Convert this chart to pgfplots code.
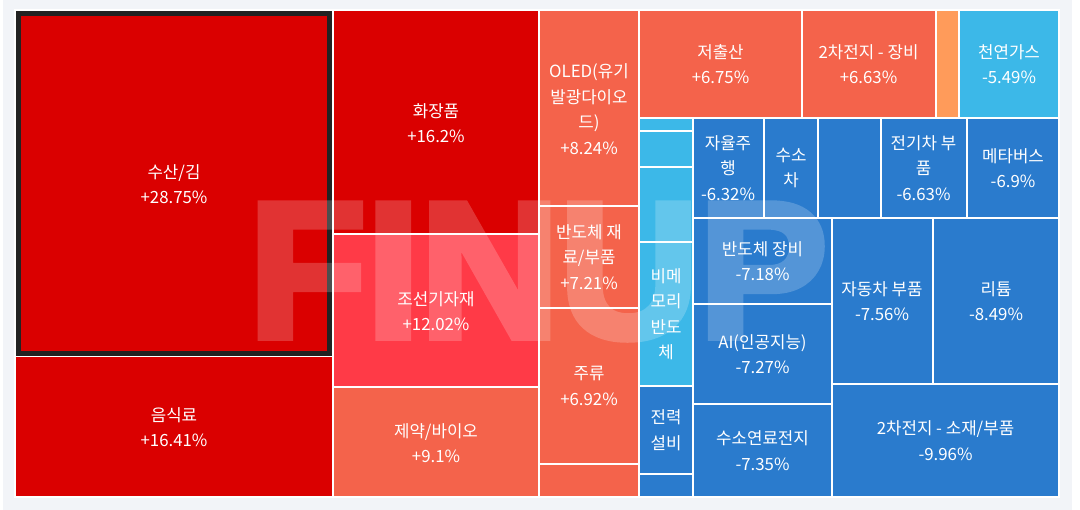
\documentclass[border=0pt]{standalone}
\usepackage{pgfplots}
\pgfplotsset{compat=1.18}
\usepackage{fontspec}
\setmainfont{Noto Sans CJK KR}
\newfontfamily\wmfont[BoldFeatures={FakeBold=4}]{Liberation Sans}
\definecolor{bg}{HTML}{F2F4F8}
\definecolor{dred}{HTML}{DA0000}
\definecolor{bred}{HTML}{FF3A47}
\definecolor{salm}{HTML}{F4634B}
\definecolor{orng}{HTML}{FF9B5A}
\definecolor{lblue}{HTML}{3CB8E8}
\definecolor{blu}{HTML}{2A7BCD}
\definecolor{dark}{HTML}{222222}
\newcommand\tile[5]{\addplot[fill=#5,draw=white,line width=2pt] coordinates {(#1,#2) (#3,#2) (#3,#4) (#1,#4)} --cycle;}
\newcommand\lbl{\fontsize{16.8}{25.5}\selectfont}
\newcommand\lab[3]{\node[align=center,text=white,font=\lbl] at (axis cs:#1,#2) {#3};}
\begin{document}
\begin{tikzpicture}
\fill[white] (0,0) rectangle (1080pt,510pt);
\fill[bg] (3pt,0) rectangle (1072pt,510pt);
\begin{axis}[scale only axis, width=1080pt, height=510pt,
  xmin=0, xmax=1080, ymin=0, ymax=510, y dir=reverse,
  hide axis, clip=false, no markers]
% tiles: x1 y1 x2 y2 colour
\tile{15}{10}{332.5}{356.5}{dred}
\tile{15}{356.5}{332.5}{497}{dred}
\tile{332.5}{10}{539}{234.5}{dred}
\tile{332.5}{234.5}{539}{387.5}{bred}
\tile{332.5}{387.5}{539}{497}{salm}
\tile{539}{10}{639}{206}{salm}
\tile{539}{206}{639}{308}{salm}
\tile{539}{308}{639}{464}{salm}
\tile{539}{464}{639}{497}{salm}
\tile{639}{10}{802}{118.5}{salm}
\tile{802}{10}{935.5}{118.5}{salm}
\tile{935.5}{10}{959}{118.5}{orng}
\tile{959}{10}{1059}{118.5}{lblue}
\tile{639}{118.5}{693}{131}{lblue}
\tile{639}{131}{693}{167}{lblue}
\tile{639}{167}{693}{242.5}{lblue}
\tile{639}{242.5}{693}{386}{lblue}
\tile{639}{386}{693}{474}{blu}
\tile{639}{474}{693}{497}{blu}
\tile{693}{118.5}{763.5}{218}{blu}
\tile{763.5}{118.5}{818}{218}{blu}
\tile{818}{118.5}{880.5}{218}{blu}
\tile{880.5}{118.5}{966.5}{218}{blu}
\tile{966.5}{118.5}{1059}{218}{blu}
\tile{693}{218}{832}{304}{blu}
\tile{693}{304}{832}{404}{blu}
\tile{693}{404}{832}{497}{blu}
\tile{832}{218}{932.5}{384}{blu}
\tile{932.5}{218}{1059}{384}{blu}
\tile{832}{384}{1059}{497}{blu}
% highlighted border
\addplot[draw=dark,line width=5pt] coordinates {(18.5,13.5) (329.5,13.5) (329.5,353.5) (18.5,353.5)} --cycle;
% watermark
\begin{scope}[transparency group, opacity=0.2]
\node[anchor=base,inner sep=0pt,text=white,font=\wmfont\bfseries\fontsize{193}{193}\selectfont] at (axis cs:538,337) {FINUP};
\end{scope}
% labels
\lab{174}{184}{수산/김\\+28.75\%}
\lab{174}{427}{음식료\\+16.41\%}
\lab{436}{123}{화장품\\+16.2\%}
\lab{436}{311}{조선기자재\\+12.02\%}
\lab{436}{443}{제약/바이오\\+9.1\%}
\lab{589}{109}{OLED(유기\\발광다이오\\드)\\+8.24\%}
\lab{589}{257}{반도체 재\\료/부품\\+7.21\%}
\lab{589}{386}{주류\\+6.92\%}
\lab{720.5}{64}{저출산\\+6.75\%}
\lab{868.5}{64}{2차전지 - 장비\\+6.63\%}
\lab{1009}{64}{천연가스\\-5.49\%}
\lab{666}{314}{비메\\모리\\반도\\체}
\lab{666}{430}{전력\\설비}
\lab{728}{168}{자율주\\행\\-6.32\%}
\lab{791}{168}{수소\\차}
\lab{923.5}{168}{전기차 부\\품\\-6.63\%}
\lab{1013}{168}{메타버스\\-6.9\%}
\lab{762.5}{261}{반도체 장비\\-7.18\%}
\lab{762.5}{354}{AI(인공지능)\\-7.27\%}
\lab{762.5}{450.5}{수소연료전지\\-7.35\%}
\lab{882}{301}{자동차 부품\\-7.56\%}
\lab{996}{301}{리튬\\-8.49\%}
\lab{945.5}{440.5}{2차전지 - 소재/부품\\-9.96\%}
\end{axis}
\end{tikzpicture}
\end{document}
